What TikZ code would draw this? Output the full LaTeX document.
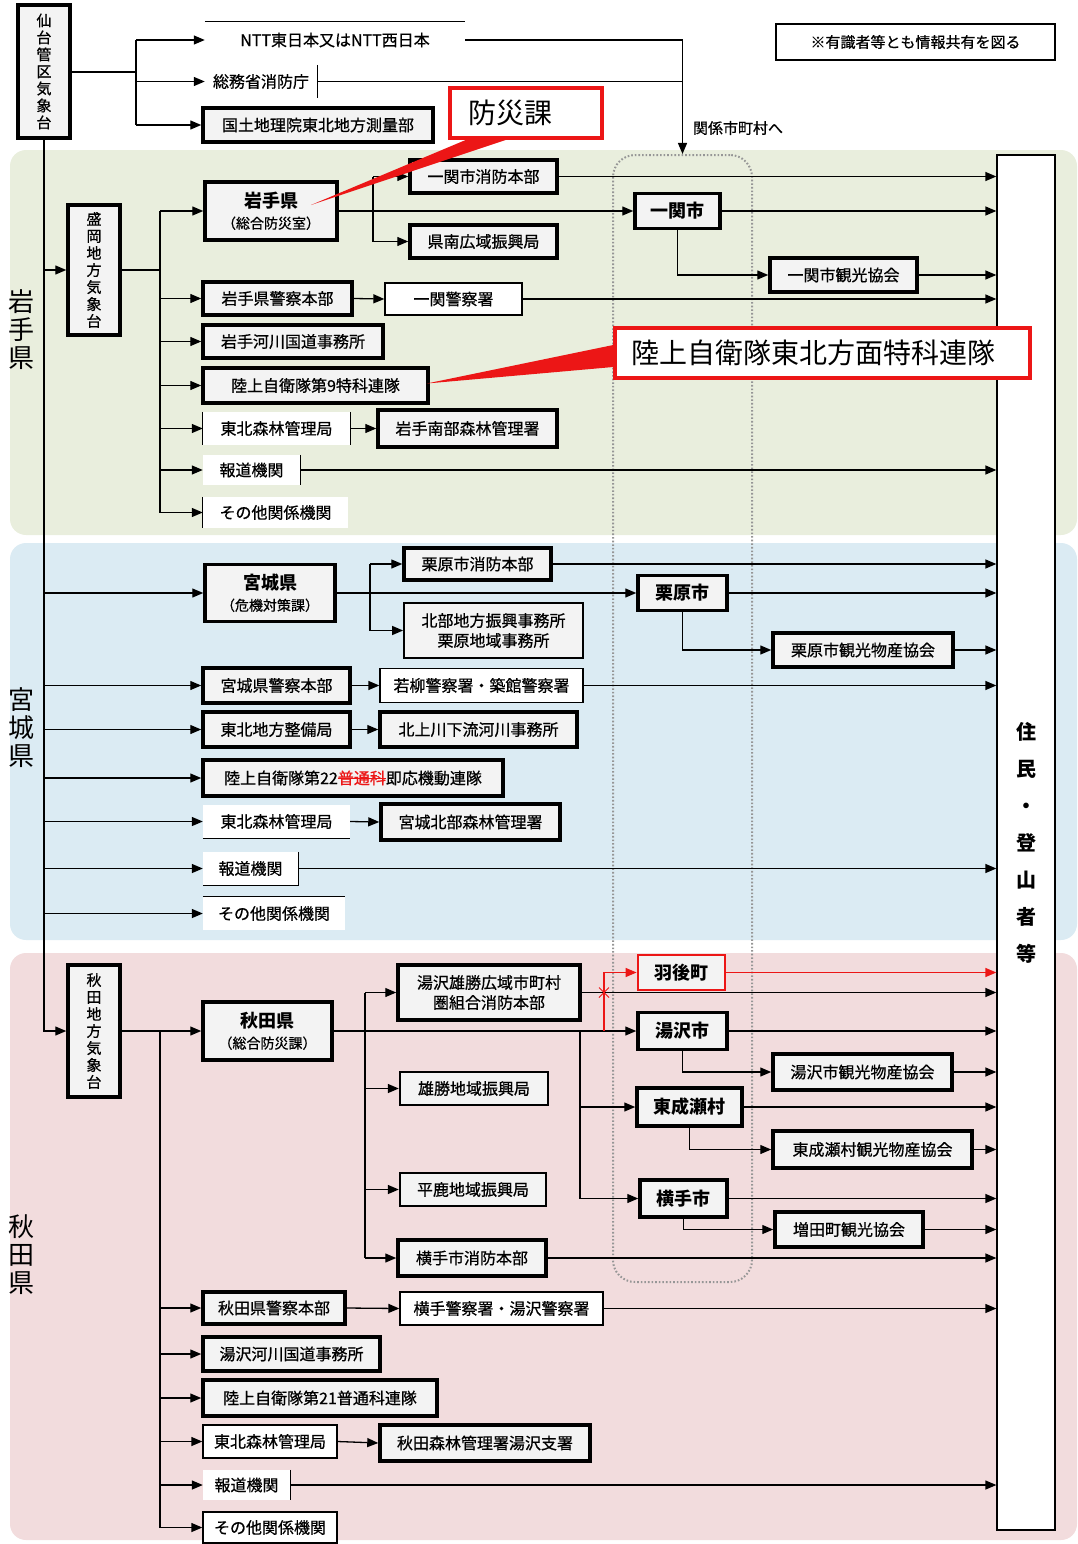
\documentclass[tikz,border=0pt]{standalone}
\usepackage{fontspec}
\setmainfont{Noto Sans CJK JP}
\newfontfamily\semib{Noto Sans CJK JP}[FakeBold=0.7]
\usepackage{xcolor}
\usetikzlibrary{arrows.meta, calc}
\definecolor{iwategreen}{RGB}{233,238,221}
\definecolor{miyagiblue}{RGB}{219,235,243}
\definecolor{akitapink}{RGB}{242,220,221}
\definecolor{boxgray}{RGB}{243,243,243}
\definecolor{zonegray}{RGB}{150,150,150}
\definecolor{alertred}{RGB}{236,22,22}
\newcommand{\fsz}[2]{\fontsize{#1pt}{#2pt}\selectfont}
\newcommand{\struck}[1]{{\color{alertred}\rlap{\rule[0.32em]{3em}{0.9pt}}#1}}
\newcommand{\subline}[1]{{\mdseries\semib\fsz{14}{17}#1}}

\begin{document}
\begin{tikzpicture}[
    x=1pt, y=-1pt,
    wh/.style 2 args={minimum width=#1pt, minimum height=#2pt},
    pbox/.style={draw, line width=3.5pt, fill=boxgray, inner sep=0pt,
                 align=center, font=\semib\fsz{16}{19}},
    tbox/.style={draw, line width=1.3pt, fill=white, inner sep=0pt,
                 align=center, font=\semib\fsz{16}{19}},
    plain/.style={fill=white, inner sep=0pt, align=center, font=\semib\fsz{16}{19}},
    vbox/.style={pbox, font=\semib\fsz{15}{17}},
    city/.style={pbox, font=\bfseries\fsz{18}{21}},
    prefbox/.style={pbox, font=\bfseries\fsz{18}{21}},
    callout/.style={draw=alertred, line width=3.5pt, fill=white, inner ysep=0pt,
                    align=left, font=\fsz{28}{32}},
    preflabel/.style={align=center, font=\fsz{26}{28}},
    band/.style={rounded corners=16pt, draw=none},
    zone/.style={draw=zonegray, line width=2pt, dash pattern=on 1.6pt off 2pt,
                 rounded corners=22pt, inner sep=0pt},
    link/.style={line width=1.3pt},
    arr/.style={-{Triangle[length=11pt,width=9pt]}, line width=1.3pt},
]
\useasboundingbox (0,0) rectangle (1077,1544);

% ── prefecture bands ─────────────────────────────────────────────────
\fill[band, iwategreen] (10,150) rectangle (1077,535);
\fill[band, miyagiblue] (10,543) rectangle (1077,940);
\fill[band, akitapink]  (10,953) rectangle (1077,1540);

\node[preflabel] (iwatelbl)  at (22,330)  {岩\\手\\県};
\node[preflabel] (miyagilbl) at (22,728)  {宮\\城\\県};
\node[preflabel] (akitalbl)  at (22,1255) {秋\\田\\県};

% municipal zone + residents
\node[zone, wh={139}{1127}] (cityzone) at (682.5,718.5) {};
\node[tbox, wh={58}{1375}, font=\bfseries\fsz{20}{37}] (jumin) at (1026,842.5)
      {住\\民\\・\\登\\山\\者\\等};

% ── top row ─────────────────────────────────────────────────────────
\node[vbox, wh={52}{133}] (sendai) at (44,71.5)
      {仙\\台\\管\\区\\気\\象\\台};
\node[plain, wh={260}{36}] (ntt)    at (335,40)   {NTT東日本又はNTT西日本};
\node[plain, wh={112}{33}] (shobo)  at (261,81.5) {総務省消防庁};
\node[pbox,  wh={230}{34}] (kokudo) at (318,125)  {国土地理院東北地方測量部};
\node[draw, line width=2.2pt, fill=white, wh={279}{36}, font=\semib\fsz{15}{18}]
      (note) at (915.5,42) {※有識者等とも情報共有を図る};
\node[font=\semib\fsz{15}{18}] (kankei) at (738,128) {関係市町村へ};

\draw[link] (ntt.north west) -- (ntt.north east);
\draw[link] (shobo.north east) -- (shobo.south east);
\coordinate (topbus) at (136,72);
\draw[link] (sendai.east |- topbus) -- (topbus);
\draw[link] (topbus |- ntt.west) -- (topbus |- kokudo.west);
\foreach \n in {ntt, shobo, kokudo}
  \draw[arr] (topbus |- \n.west) -- (\n.west);
\draw[arr] (ntt.east) -| (cityzone.north);
\draw[link] (shobo.east) -- (shobo.east -| cityzone.north);

% ── Iwate ───────────────────────────────────────────────────────────
\node[vbox, wh={52}{130}] (morioka) at (94,270)
      {盛\\岡\\地\\方\\気\\象\\台};
\node[prefbox, wh={132}{58}] (iwatepref) at (271,211)
      {岩手県\\\subline{（総合防災室）}};
\node[pbox, wh={147}{33}] (ichifire)   at (483.5,176.5) {一関市消防本部};
\node[pbox, wh={147}{33}] (kennan)     at (483.5,241.5) {県南広域振興局};
\node[city, wh={85}{35}]  (ichi)       at (677.5,211)   {一関市};
\node[pbox, wh={147}{34}] (ichikanko)  at (843.5,275)   {一関市観光協会};
\node[pbox, wh={149}{33}] (iwpolice)   at (277.5,298.5) {岩手県警察本部};
\node[tbox, wh={137}{32}] (ichipolice) at (453.5,299)   {一関警察署};
\node[pbox, wh={180}{33}] (iwriver)    at (293,341.5)   {岩手河川国道事務所};
\node[pbox, wh={225}{35}] (iwsdf)      at (315.5,385.5) {陸上自衛隊第9特科連隊};
\node[plain, wh={147}{33}] (iwforest)  at (276.5,428.5) {東北森林管理局};
\node[pbox, wh={179}{37}] (iwforest2)  at (467.5,428.5) {岩手南部森林管理署};
\node[plain, wh={97}{30}]  (iwpress)   at (251.5,470)   {報道機関};
\node[plain, wh={145}{31}] (iwother)   at (275.5,512.5) {その他関係機関};

\draw[link] (iwforest.north west) -- (iwforest.south west);
\draw[link] (iwforest.north east) -- (iwforest.south east);
\draw[link] (iwpress.north east) -- (iwpress.south east);
\draw[link] (iwother.north west) -- (iwother.south west);

\draw[arr] (sendai.south |- morioka.west) -- (morioka.west);
\coordinate (iwbus) at (160,270);
\draw[link] (morioka.east) -- (iwbus);
\draw[link] (iwbus |- iwatepref.west) -- (iwbus |- iwother.west);
\foreach \n in {iwatepref, iwpolice, iwriver, iwsdf, iwforest, iwpress, iwother}
  \draw[arr] (iwbus |- \n.west) -- (\n.west);

\draw[arr] (iwatepref.east) -- (ichi.west);
\coordinate (iwfork) at (373,211);
\draw[link] (iwfork |- ichifire.west) -- (iwfork |- kennan.west);
\draw[arr] (iwfork |- ichifire.west) -- (ichifire.west);
\draw[arr] (iwfork |- kennan.west) -- (kennan.west);
\draw[arr] (ichi.south) |- (ichikanko.west);
\draw[arr] (iwpolice.east) -- (ichipolice.west);
\draw[arr] (iwforest.east) -- (iwforest2.west);
\foreach \n in {ichifire, ichi, ichikanko, ichipolice, iwpress}
  \draw[arr] (\n.east) -- (\n.east -| jumin.west);

% ── Miyagi ──────────────────────────────────────────────────────────
\node[prefbox, wh={130}{57}] (miyagipref) at (270,593)
      {宮城県\\\subline{（危機対策課）}};
\node[pbox, wh={147}{32}] (kurifire)  at (477.5,564) {栗原市消防本部};
\node[tbox, wh={179}{55}, line width=1.8pt, fill=boxgray, font=\semib\fsz{16}{20}]
      (hokubu) at (493.5,630.5) {北部地方振興事務所\\栗原地域事務所};
\node[city, wh={89}{35}]  (kuri)      at (682.5,593) {栗原市};
\node[pbox, wh={180}{34}] (kurikanko) at (863,650)   {栗原市観光物産協会};
\node[pbox, wh={147}{35}] (mgpolice)  at (276.5,685.5) {宮城県警察本部};
\node[tbox, wh={203}{34}] (mgpolice2) at (481.5,685.5) {若柳警察署・築館警察署};
\node[pbox, wh={147}{35}] (seibi)     at (276.5,729.5) {東北地方整備局};
\node[pbox, wh={197}{35}] (kitakami)  at (478.5,729.5) {北上川下流河川事務所};
\node[pbox, wh={300}{36}] (mgsdf)     at (353,778)
      {陸上自衛隊第22\struck{普通科}即応機動連隊};
\node[plain, wh={147}{33}] (mgforest)  at (276.5,821.5) {東北森林管理局};
\node[pbox, wh={179}{36}]  (mgforest2) at (470.5,822)   {宮城北部森林管理署};
\node[plain, wh={95}{33}]  (mgpress)   at (250.5,868.5) {報道機関};
\node[plain, wh={142}{33}] (mgother)   at (274,913.5)   {その他関係機関};

\draw[link] (mgforest.south west) -- (mgforest.south east);
\draw[link] (mgpress.north east) -- (mgpress.south east) -- (mgpress.south west);
\draw[link] (mgother.north west) -- (mgother.north east);

\foreach \n in {miyagipref, mgpolice, seibi, mgsdf, mgforest, mgpress, mgother}
  \draw[arr] (sendai.south |- \n.west) -- (\n.west);

\draw[arr] (miyagipref.east) -- (kuri.west);
\coordinate (mgfork) at (370,593);
\draw[link] (mgfork |- kurifire.west) -- (mgfork |- hokubu.west);
\draw[arr] (mgfork |- kurifire.west) -- (kurifire.west);
\draw[arr] (mgfork |- hokubu.west) -- (hokubu.west);
\draw[arr] (kuri.south) |- (kurikanko.west);
\draw[arr] (mgpolice.east) -- (mgpolice2.west);
\draw[arr] (seibi.east) -- (kitakami.west);
\draw[arr] (mgforest.east) -- (mgforest2.west);
\foreach \n in {kurifire, kuri, kurikanko, mgpolice2, mgpress}
  \draw[arr] (\n.east) -- (\n.east -| jumin.west);

% ── Akita ───────────────────────────────────────────────────────────
\node[vbox, wh={52}{132}] (akitamet) at (94,1031)
      {秋\\田\\地\\方\\気\\象\\台};
\node[prefbox, wh={129}{58}] (akitapref) at (267.5,1031)
      {秋田県\\\subline{（総合防災課）}};
\node[pbox, wh={182}{55}, font=\semib\fsz{16}{20}] (ogachifire) at (489,992.5)
      {湯沢雄勝広域市町村\\圏組合消防本部};
\node[pbox, wh={148}{33}, line width=2.4pt] (ogachi) at (474,1088.5) {雄勝地域振興局};
\node[pbox, wh={146}{33}, line width=2.4pt] (hiraka) at (473,1189.5) {平鹿地域振興局};
\node[pbox, wh={148}{36}] (yokofire) at (472,1258) {横手市消防本部};
\node[city, wh={87}{35}, draw=alertred, line width=2.8pt] (ugo) at (681.5,972.5) {羽後町};
\node[city, wh={89}{37}]  (yuzawa)       at (682.5,1031)  {湯沢市};
\node[pbox, wh={179}{36}] (yuzawakanko)  at (862.5,1072)  {湯沢市観光物産協会};
\node[city, wh={105}{38}] (higashi)      at (689.5,1107)  {東成瀬村};
\node[pbox, wh={199}{37}] (higashikanko) at (872.5,1149.5) {東成瀬村観光物産協会};
\node[city, wh={87}{37}]  (yokote)       at (683.5,1198.5) {横手市};
\node[pbox, wh={148}{35}] (masuda)       at (849,1229.5)  {増田町観光協会};
\node[pbox, wh={142}{32}] (akpolice)  at (274,1308)    {秋田県警察本部};
\node[tbox, wh={203}{33}] (akpolice2) at (501.5,1308.5) {横手警察署・湯沢警察署};
\node[pbox, wh={177}{34}] (akriver)   at (291.5,1354)  {湯沢河川国道事務所};
\node[pbox, wh={234}{36}] (aksdf)     at (320,1398)    {陸上自衛隊第21普通科連隊};
\node[tbox, wh={134}{33}] (akforest)  at (270,1441.5)  {東北森林管理局};
\node[pbox, wh={210}{36}] (akforest2) at (485,1443)    {秋田森林管理署湯沢支署};
\node[plain, wh={87}{30}] (akpress)   at (246.5,1485)  {報道機関};
\node[tbox, wh={134}{31}] (akother)   at (270,1527.5)  {その他関係機関};

\draw[link] (akpress.north east) -- (akpress.south east);

\draw[arr] (sendai.south) |- (akitamet.west);
\coordinate (akbus) at (160,1031);
\draw[link] (akitamet.east) -- (akbus) -- (akbus |- akother.west);
\foreach \n in {akitapref, akpolice, akriver, aksdf, akforest, akpress, akother}
  \draw[arr] (akbus |- \n.west) -- (\n.west);

\draw[arr] (akitapref.east) -- (yuzawa.west);
\coordinate (akfork) at (365,1031);
\draw[link] (akfork |- ogachifire.west) -- (akfork |- yokofire.west);
\foreach \n in {ogachifire, ogachi, hiraka, yokofire}
  \draw[arr] (akfork |- \n.west) -- (\n.west);
\coordinate (townbus) at (580,1031);
\draw[link] (townbus) -- (townbus |- yokote.west);
\draw[arr] (townbus |- higashi.west) -- (higashi.west);
\draw[arr] (townbus |- yokote.west) -- (yokote.west);
\draw[arr] (yuzawa.south) |- (yuzawakanko.west);
\draw[arr] (higashi.south) |- (higashikanko.west);
\draw[arr] (yokote.south) |- (masuda.west);
\draw[arr] (akpolice.east) -- (akpolice2.west);
\draw[arr] (akforest.east) -- (akforest2.west);
\foreach \n in {ogachifire, yuzawa, yuzawakanko, higashi, higashikanko,
                yokote, masuda, yokofire, akpolice2, akpress}
  \draw[arr] (\n.east) -- (\n.east -| jumin.west);

% red addition: Ugo town
\coordinate (redbus) at (604,1031);
\draw[arr, alertred] (redbus) |- (ugo.west);
\draw[arr, alertred] (ugo.east) -- (ugo.east -| jumin.west);
\draw[alertred, line width=0.8pt]
      ($(redbus |- ogachifire.east)+(-5,-5)$) -- +(10,10)
      ($(redbus |- ogachifire.east)+(-5,5)$) -- +(10,-10);

% ── red callouts ────────────────────────────────────────────────────
\node[callout, inner xsep=18pt, text width=116pt, minimum height=50pt]
      (bosai) at (526,113) {防災課};
\coordinate (bosaitip) at ($(iwatepref.center)+(40,-6)$);
\fill[alertred] ($(bosai.south west)+(18,0)$) -- ($(bosai.south west)+(58,0)$)
      -- (bosaitip) -- cycle;
\node[callout, inner xsep=16pt, text width=383pt, minimum height=50pt]
      (toku) at (822.5,353) {陸上自衛隊東北方面特科連隊};
\coordinate (tokutip) at ($(iwsdf.east)+(-3,-2)$);
\fill[alertred] ($(toku.west)+(0,-8)$) -- ($(toku.west)+(0,14)$) -- (tokutip) -- cycle;

\end{tikzpicture}
\end{document}
